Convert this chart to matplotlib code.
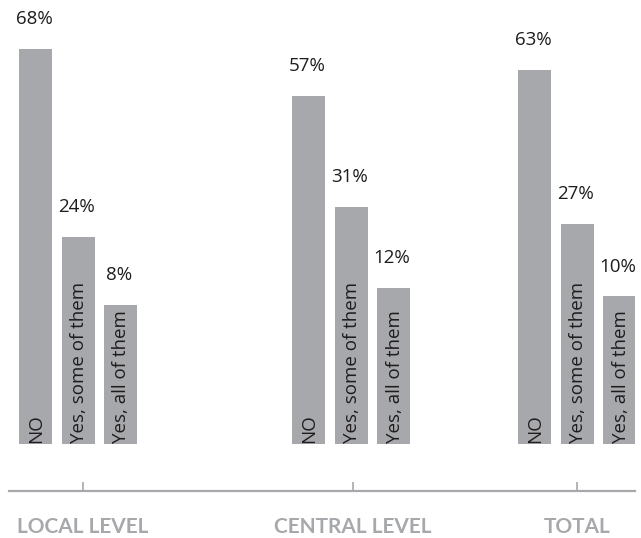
import matplotlib
matplotlib.use("Agg")
import matplotlib.pyplot as plt

# Survey answers per level (percent)
groups = ["LOCAL LEVEL", "CENTRAL LEVEL", "TOTAL"]
answers = ["NO", "Yes, some of them", "Yes, all of them"]
pct_no = [68, 57, 63]
pct_some = [24, 31, 27]
pct_all = [8, 12, 10]

# layout (x in pixel-like units across the axis)
group_left = [19, 292, 518]
slot_step = 42.5
bar_w = 33
tick_pos = [83, 353, 577]
baseline = -24.5

bar_color = "#a7a8ab"
text_color = "#1f1c1d"
axis_color = "#a7a8ab"

plt.rcParams["font.family"] = ["Open Sans", "DejaVu Sans"]

fig = plt.figure(figsize=(6.41, 5.38), dpi=100)
ax = fig.add_axes([9 / 641, 47 / 538, 626 / 641, 491 / 538])
ax.set_xlim(9, 635)
ax.set_ylim(-35.6, 79.45)

series = [pct_no, pct_some, pct_all]
for j, (name, vals) in enumerate(zip(answers, series)):
    for g, v in enumerate(vals):
        cx = group_left[g] + j * slot_step + bar_w / 2
        ax.bar(cx, v - baseline, bottom=baseline, width=bar_w,
               color=bar_color, edgecolor="none")
        ax.annotate(f"{v}%", xy=(cx, v), xytext=(-1, 15),
                    textcoords="offset points", ha="center", va="bottom",
                    fontsize=13.5, color=text_color)
        ax.text(cx + 1, baseline + 0.2, name, rotation=90, ha="center",
                va="bottom", fontsize=13.5, color=text_color)

for side in ["top", "right", "left"]:
    ax.spines[side].set_visible(False)
ax.spines["bottom"].set_color(axis_color)
ax.spines["bottom"].set_linewidth(1.6)
ax.set_yticks([])
ax.set_xticks(tick_pos)
ax.set_xticklabels(groups, fontfamily="Lato", fontweight="bold",
                   fontsize=15, color=axis_color)
ax.tick_params(axis="x", direction="in", length=6.5, width=1.2,
               color=axis_color, pad=19)

fig.savefig("out.png", dpi=100)
